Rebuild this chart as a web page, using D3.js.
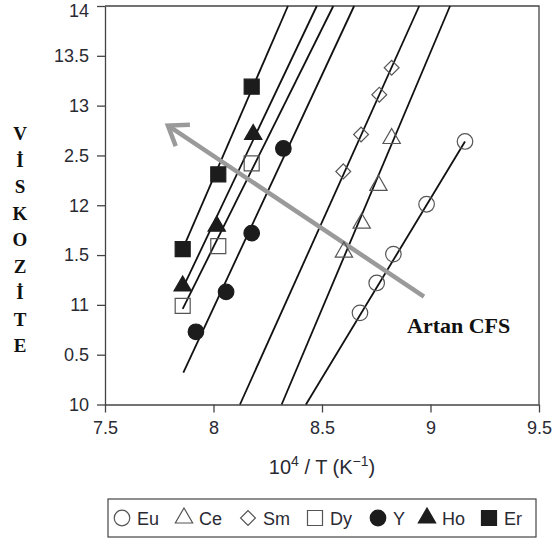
<!DOCTYPE html>
<html>
<head>
<meta charset="utf-8">
<title>Viskozite</title>
<script src="https://d3js.org/d3.v7.min.js"></script>
<style>
  body { margin: 0; background: #fff; }
  text { font-family: "Liberation Sans", Arial, sans-serif; }
  .serif { font-family: "Liberation Serif", "Times New Roman", serif; font-weight: bold; }
  .axis path, .axis line { stroke: #444; stroke-width: 1.3; }
  .axis text { fill: #2a2a33; font-size: 18px; }
</style>
</head>
<body>
<script>
// data
var xTicks = [7.5, 8, 8.5, 9, 9.5];
var yTicks = [10, 10.5, 11, 11.5, 12, 12.5, 13, 13.5, 14];
var yTickLabels = ["10", "0.5", "11", "1.5", "12", "2.5", "13", "13.5", "14"];

var euX = [8.675, 8.752, 8.829, 8.982, 9.159];
var euY = [10.92, 11.22, 11.51, 12.01, 12.64];
var ceX = [8.601, 8.683, 8.760, 8.821];
var ceY = [11.53, 11.82, 12.20, 12.67];
var smX = [8.598, 8.680, 8.764, 8.821];
var smY = [12.34, 12.71, 13.11, 13.38];
var dyX = [7.858, 8.022, 8.176];
var dyY = [10.99, 11.59, 12.42];
var yX = [7.919, 8.058, 8.176, 8.322];
var yY = [10.73, 11.13, 11.72, 12.57];
var hoX = [7.858, 8.015, 8.183];
var hoY = [11.19, 11.79, 12.71];
var erX = [7.858, 8.022, 8.176];
var erY = [11.56, 12.31, 13.19];

// fitted lines: [x1, y1, x2, y2]
var fitLines = [
  [7.858, 11.56, 8.343, 14],   // Er
  [7.861, 11.18, 8.476, 14],   // Ho
  [7.858, 10.96, 8.552, 14],   // Dy
  [7.861, 10.32, 8.648, 14],   // Y
  [8.122, 10, 8.948, 14],      // Sm
  [8.314, 10, 9.090, 14],      // Ce
  [8.426, 10, 9.159, 12.64]    // Eu
];

var arrowFrom = [8.970, 11.084];
var arrowTo = [7.790, 12.80];

var legendNames = ["Eu", "Ce", "Sm", "Dy", "Y", "Ho", "Er"];

var series = [
  {name: "Eu", xs: euX, ys: euY, shape: "circle", filled: false},
  {name: "Ce", xs: ceX, ys: ceY, shape: "triangle", filled: false},
  {name: "Sm", xs: smX, ys: smY, shape: "diamond", filled: false},
  {name: "Dy", xs: dyX, ys: dyY, shape: "square", filled: false},
  {name: "Y", xs: yX, ys: yY, shape: "circle", filled: true},
  {name: "Ho", xs: hoX, ys: hoY, shape: "triangle", filled: true},
  {name: "Er", xs: erX, ys: erY, shape: "square", filled: true}
];

var margin = {top: 6, left: 105},
    width = 434,
    height = 398.5;

var svg = d3.select("body").append("svg")
    .attr("width", 553)
    .attr("height", 540);

var g = svg.append("g")
    .attr("transform", "translate(" + margin.left + "," + margin.top + ")");

var x = d3.scaleLinear().domain([7.5, 9.5]).range([0, width]);
var y = d3.scaleLinear().domain([10, 14]).range([height, 0]);

// frame top & right
g.append("path")
    .attr("d", "M0,0H" + width + "V" + height)
    .attr("fill", "none")
    .attr("stroke", "#444")
    .attr("stroke-width", 1.3);

g.append("g")
    .attr("class", "axis")
    .attr("transform", "translate(0," + height + ")")
    .call(d3.axisBottom(x).tickValues(xTicks).tickFormat(d3.format("")).tickSize(8).tickSizeOuter(0).tickPadding(9));

var yAxis = g.append("g")
    .attr("class", "axis")
    .call(d3.axisLeft(y).tickValues(yTicks)
      .tickFormat(function(d, i) { return yTickLabels[i]; })
      .tickSize(8).tickSizeOuter(0).tickPadding(8));
// top label sits a little lower so it is not clipped
yAxis.selectAll(".tick text").filter(function(d) { return d == 14; }).attr("y", 4.5);

// fitted lines
g.selectAll(".fit")
    .data(fitLines)
  .enter().append("line")
    .attr("class", "fit")
    .attr("x1", function(d) { return x(d[0]); })
    .attr("y1", function(d) { return y(d[1]); })
    .attr("x2", function(d) { return x(d[2]); })
    .attr("y2", function(d) { return y(d[3]); })
    .attr("stroke", "#111")
    .attr("stroke-width", 1.8);

// gray arrow
var ax0 = x(arrowFrom[0]), ay0 = y(arrowFrom[1]),
    ax1 = x(arrowTo[0]), ay1 = y(arrowTo[1]);
var ang = Math.atan2(ay0 - ay1, ax0 - ax1), armLen = 22, spread = 0.62;
g.append("line")
    .attr("x1", ax0).attr("y1", ay0)
    .attr("x2", ax1 + 2 * Math.cos(ang)).attr("y2", ay1 + 2 * Math.sin(ang))
    .attr("stroke", "#9a9a9a").attr("stroke-width", 4.5);
g.append("path")
    .attr("d", "M" + (ax1 + armLen * Math.cos(ang + spread)) + "," + (ay1 + armLen * Math.sin(ang + spread)) +
      "L" + ax1 + "," + ay1 +
      "L" + (ax1 + armLen * Math.cos(ang - spread)) + "," + (ay1 + armLen * Math.sin(ang - spread)))
    .attr("fill", "none")
    .attr("stroke", "#9a9a9a").attr("stroke-width", 4.5)
    .attr("stroke-linejoin", "miter");

function symbolPath(shape) {
  if (shape == "circle") return d3.symbol().type(d3.symbolCircle).size(190)();
  if (shape == "square") return d3.symbol().type(d3.symbolSquare).size(225)();
  if (shape == "triangle") return d3.symbol().type(d3.symbolTriangle).size(130)();
  return d3.symbol().type(d3.symbolSquare).size(110)();
}

function drawMarker(sel, s) {
  sel.append("path")
    .attr("d", symbolPath(s.shape))
    .attr("transform", s.shape == "diamond" ? "rotate(45)" : null)
    .attr("fill", s.filled ? "#1c1c1c" : "none")
    .attr("stroke", s.filled ? "#1c1c1c" : "#555")
    .attr("stroke-width", 1.2);
}

series.forEach(function(s) {
  s.xs.forEach(function(v, i) {
    var m = g.append("g")
      .attr("transform", "translate(" + x(v) + "," + y(s.ys[i]) + ")");
    drawMarker(m, s);
  });
});

// annotation
svg.append("text")
    .attr("class", "serif")
    .attr("x", 407).attr("y", 333)
    .attr("font-size", 22)
    .attr("fill", "#111")
    .text("Artan CFS");

// y title, stacked letters
var yLetters = ["V", "İ", "S", "K", "O", "Z", "İ", "T", "E"];
svg.selectAll(".ylet")
    .data(yLetters)
  .enter().append("text")
    .attr("class", "serif")
    .attr("x", 20)
    .attr("y", function(d, i) { return 140 + i * 26.5; })
    .attr("text-anchor", "middle")
    .attr("font-size", 19)
    .attr("fill", "#111")
    .text(function(d) { return d; });

// x title
var xt = svg.append("text")
    .attr("x", 322).attr("y", 474)
    .attr("text-anchor", "middle")
    .attr("font-size", 20)
    .attr("fill", "#2a2a33");
xt.append("tspan").text("10");
xt.append("tspan").attr("dy", -8).attr("font-size", 14).text("4");
xt.append("tspan").attr("dy", 8).text(" / T (K");
xt.append("tspan").attr("dy", -8).attr("font-size", 14).text("\u22121");
xt.append("tspan").attr("dy", 8).text(")");

// legend
var legend = svg.append("g");
legend.append("rect")
    .attr("x", 108).attr("y", 499)
    .attr("width", 428).attr("height", 38)
    .attr("fill", "none")
    .attr("stroke", "#444")
    .attr("stroke-width", 1.2);

var legX = [122, 184, 248, 315, 378, 427, 489];
series.forEach(function(s, i) {
  var item = legend.append("g")
    .attr("transform", "translate(" + legX[i] + ",518)");
  drawMarker(item, s);
  item.append("text")
    .attr("x", 15).attr("y", 6.5)
    .attr("font-size", 18)
    .attr("fill", "#2a2a33")
    .text(legendNames[i]);
});
</script>
</body>
</html>
